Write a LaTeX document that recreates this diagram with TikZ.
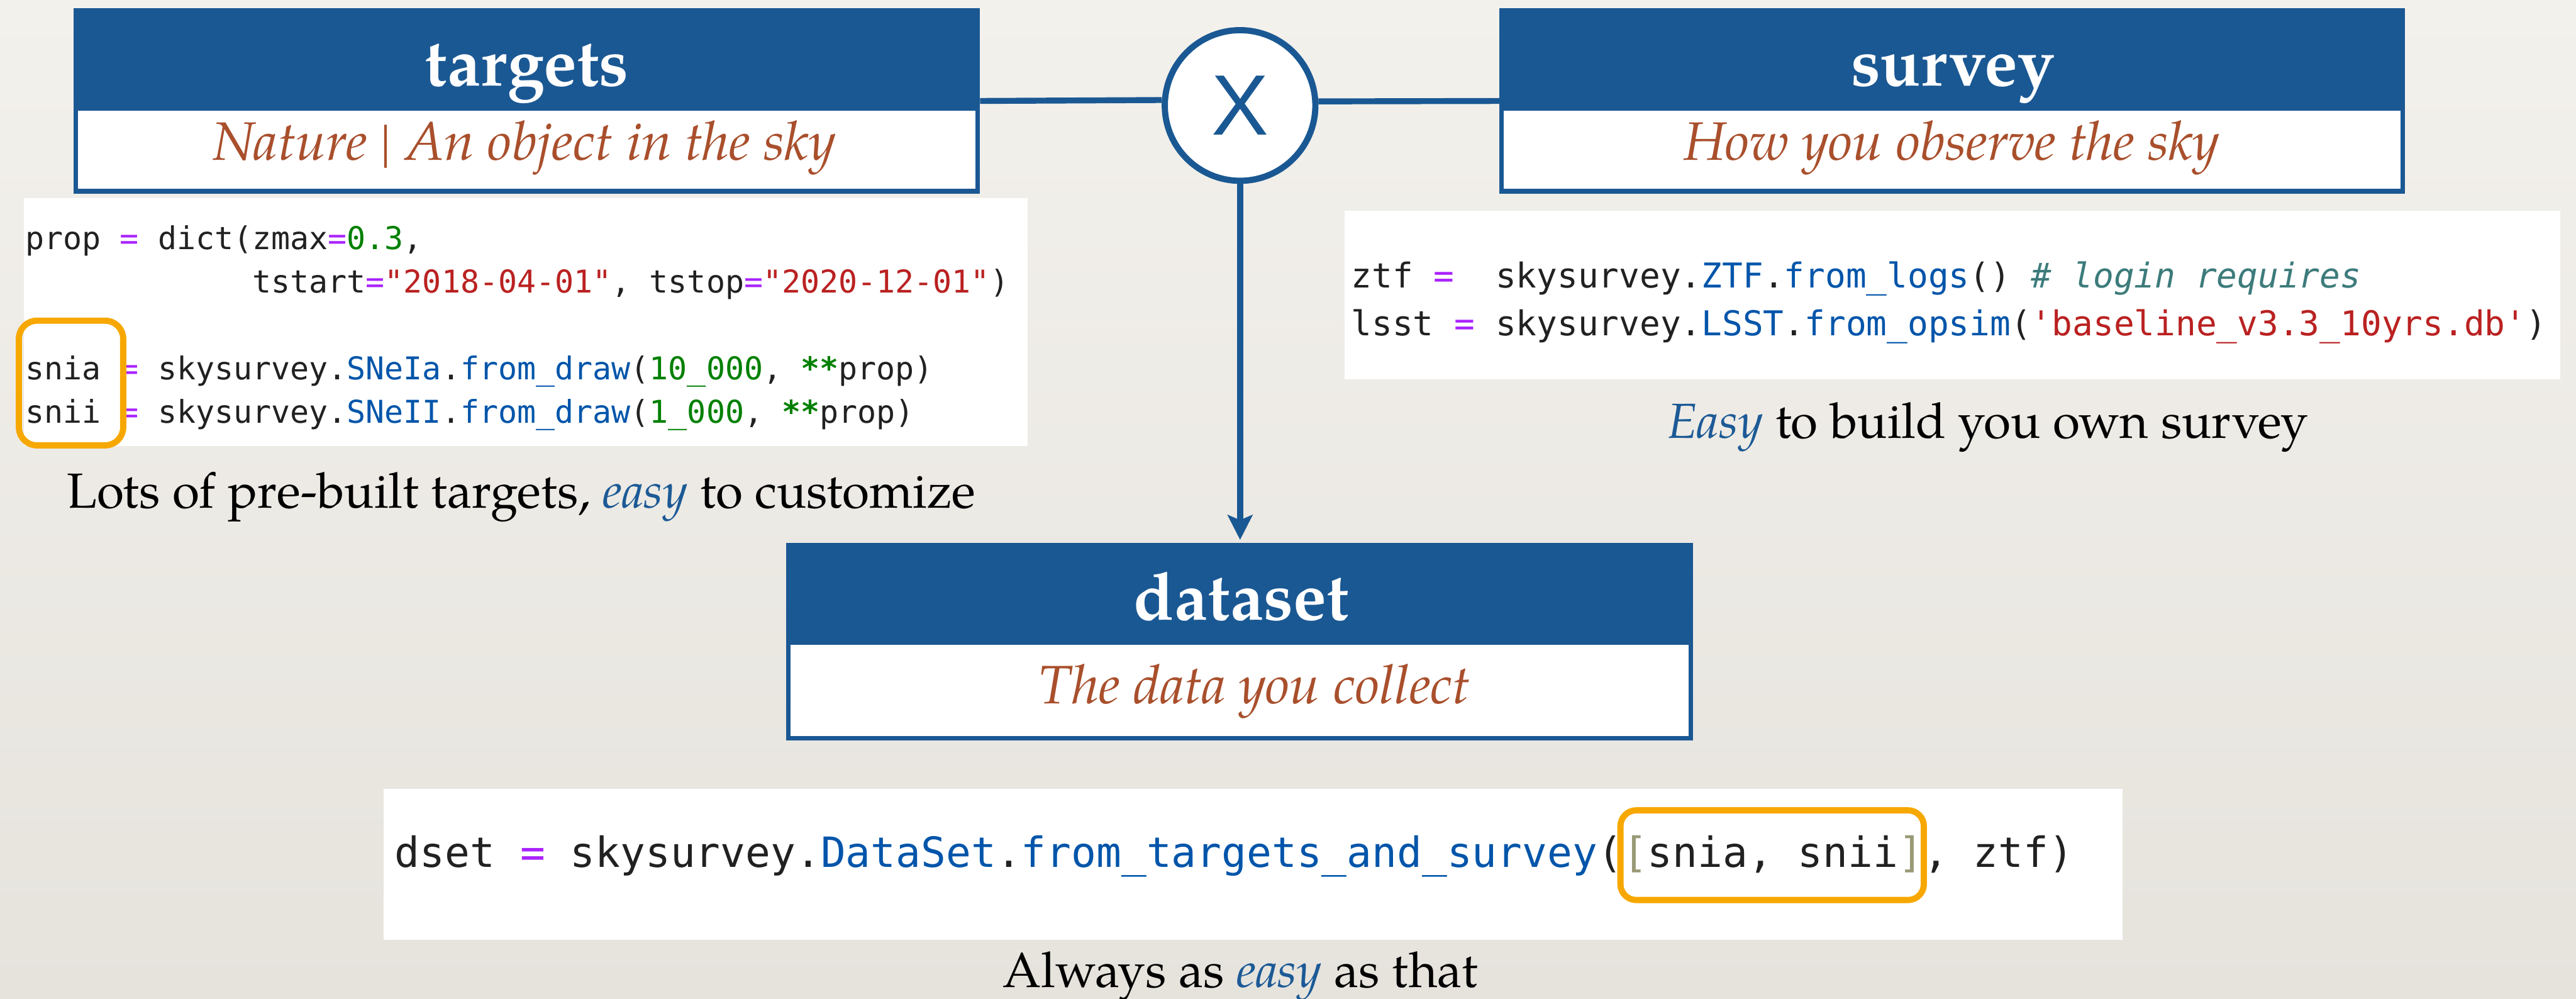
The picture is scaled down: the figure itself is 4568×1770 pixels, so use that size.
\documentclass[tikz,border=0pt]{standalone}
\usepackage{fontspec}
\setmainfont{TeX Gyre Pagella}
\newfontfamily\codefont{DejaVu Sans Mono}
\newfontfamily\xfont{Liberation Sans}
\usetikzlibrary{arrows.meta}

\definecolor{boxblue}{RGB}{26,88,147}
\definecolor{subbrown}{RGB}{169,79,44}
\definecolor{easyblue}{RGB}{28,90,150}
\definecolor{hlorange}{RGB}{247,168,0}
\definecolor{codeink}{RGB}{33,33,33}
\definecolor{codeop}{RGB}{170,34,255}
\definecolor{codenum}{RGB}{0,128,0}
\definecolor{codestr}{RGB}{186,33,33}
\definecolor{codename}{RGB}{0,85,170}
\definecolor{codecmt}{RGB}{61,123,123}
\definecolor{codebrk}{RGB}{153,153,119}
\definecolor{papertop}{RGB}{243,241,236}
\definecolor{paperbot}{RGB}{230,227,221}

% syntax colouring of the code snippets
\newcommand\opEq{\textcolor{codeop}{=}}
\newcommand\numC[1]{\textcolor{codenum}{#1}}
\newcommand\strC[1]{\textcolor{codestr}{#1}}
\newcommand\nameC[1]{\textcolor{codename}{#1}}
\newcommand\cmtC[1]{\textcolor{codecmt}{\itshape #1}}
\newcommand\brC[1]{\textcolor{codebrk}{#1}}
\newcommand\starC{\textcolor{codenum}{\bfseries **}}
\newcommand\easyC[1]{\textcolor{easyblue}{\itshape #1}}

\begin{document}
\begin{tikzpicture}[x=1pt, y=-1pt,
  hdr/.style={fill=boxblue, inner sep=0pt, outer sep=0pt},
  body/.style={draw=boxblue, line width=8pt, fill=white, inner sep=0pt, outer sep=0pt},
  ttl/.style={text=white, font=\fontsize{118}{126}\selectfont\bfseries, anchor=base, inner sep=0pt},
  sub/.style={text=subbrown, font=\fontsize{96}{106}\selectfont\itshape, anchor=base, inner sep=0pt},
  capt/.style={text=black, font=\fontsize{87.5}{100}\selectfont, anchor=base, inner sep=0pt},
  panel/.style={fill=white, inner sep=0pt, outer sep=0pt},
  hl/.style={draw=hlorange, line width=11pt, rounded corners=32pt, inner sep=0pt},
  codeS/.style={text=codeink, anchor=base west, inner sep=0pt},
  link/.style={draw=boxblue, line width=10.5pt},
  joint/.style={circle, draw=boxblue, line width=11pt, fill=white, minimum size=267pt,
    inner sep=0pt, text=boxblue, font=\xfont\fontsize{152}{160}\selectfont},
]
% paper background
\shade[top color=papertop, bottom color=paperbot] (0,0) rectangle (4568,1770);
\useasboundingbox (0,0) rectangle (4568,1770);

% ---------------- targets box ----------------
\node[hdr, minimum width=1608pt, minimum height=182pt] (tgth) at (934,105) {};
\node[body, minimum width=1600pt, minimum height=147pt] (tgtb) at (934,265.5) {};
\node[ttl] (tgtt) at (934,152) {targets};
\node[sub] (tgts) at (930,284) {Nature {\upshape|} An object in the sky};

% ---------------- survey box ----------------
\node[hdr, minimum width=1606pt, minimum height=182pt] (svh) at (3462,105) {};
\node[body, minimum width=1598pt, minimum height=147pt] (svb) at (3462,265.5) {};
\node[ttl] (svt) at (3463,152) {survey};
\node[sub] (svs) at (3461,284) {How you observe the sky};

% ---------------- dataset box ----------------
\node[hdr, minimum width=1608pt, minimum height=181pt] (dsh) at (2198,1052.5) {};
\node[body, minimum width=1600pt, minimum height=170pt] (dsb) at (2198,1224) {};
\node[ttl] (dst) at (2201,1099) {dataset};
\node[sub] (dss) at (2225,1247) {The data you collect};

% ---------------- joint and connectors ----------------
\node[joint] (xc) at (2199,187) {X};
\coordinate (lvl) at (0,179);
\draw[link] (tgth.east |- lvl) -- (xc.176.6);
\draw[link] (xc.3.4) -- (svh.west |- lvl);
\draw[link, -{Stealth[length=44pt, width=44pt, inset=9pt]}, shorten >=5pt]
  (xc.south) -- (xc.south |- dsh.north);

% ---------------- targets code ----------------
\node[panel, minimum width=1780pt, minimum height=440pt] (tgcode) at (932,571) {};
\begin{scope}[every node/.style={codeS, font=\codefont\fontsize{55.7}{66}\selectfont}]
\node (tc1) at (45,442) {prop \opEq{} dict(zmax\opEq\numC{0.3},};
\node (tc2) at (45,519) {\hphantom{xxxxxxxxxxxx}tstart\opEq\strC{"2018-04-01"}, tstop\opEq\strC{"2020-12-01"})};
\node (tc3) at (45,673) {snia \opEq{} skysurvey.\nameC{SNeIa}.\nameC{from\_draw}(\numC{10\_000}, \starC{}prop)};
\node (tc4) at (45,750) {snii \opEq{} skysurvey.\nameC{SNeII}.\nameC{from\_draw}(\numC{1\_000}, \starC{}prop)};
\end{scope}
\node[hl, minimum width=185pt, minimum height=221pt] (hlA) at (126,679) {};
\node[capt] (tgcap) at (924,900) {Lots of pre-built targets, \easyC{easy} to customize};

% ---------------- survey code ----------------
\node[panel, minimum width=2156pt, minimum height=298pt] (svcode) at (3462,523) {};
\begin{scope}[every node/.style={codeS, font=\codefont\fontsize{60.7}{72}\selectfont}]
\node (sc1) at (2396,510) {ztf \opEq\ \ skysurvey.\nameC{ZTF}.\nameC{from\_logs}() \cmtC{\# login requires}};
\node (sc2) at (2396,595) {lsst \opEq{} skysurvey.\nameC{LSST}.\nameC{from\_opsim}(\strC{'baseline\_v3.3\_10yrs.db'})};
\end{scope}
\node[capt] (svcap) at (3525,777) {\easyC{Easy} to build you own survey};

% ---------------- dataset code ----------------
\node[panel, minimum width=3084pt, minimum height=268pt] (dscode) at (2222,1532) {};
\node[codeS, font=\codefont\fontsize{73.8}{88}\selectfont] (dc1) at (700,1537)
  {dset \opEq{} skysurvey.\nameC{DataSet}.\nameC{from\_targets\_and\_survey}(\brC{[}snia, snii\brC{]}, ztf)};
\node[hl, minimum width=538pt, minimum height=159pt, rounded corners=28pt] (hlB) at (3142.5,1516) {};
\node[capt] (dscap) at (2200,1750) {Always as \easyC{easy} as that};
\end{tikzpicture}
\end{document}
